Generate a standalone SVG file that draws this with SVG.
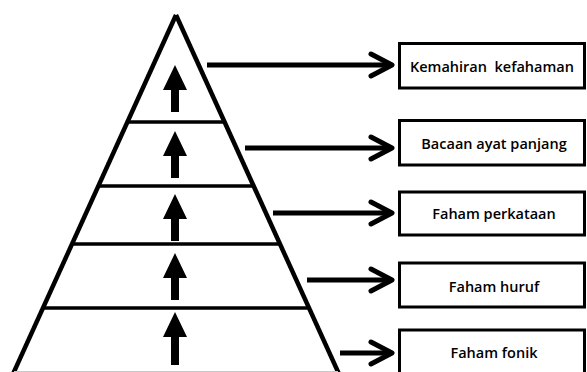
<svg xmlns="http://www.w3.org/2000/svg" width="587" height="372" viewBox="0 0 587 372">
  <style>
    .side { stroke: #000; stroke-width: 4.5; fill: none; stroke-linecap: butt; }
    .div { stroke: #000; stroke-width: 3.5; fill: none; }
    .up { fill: #000; stroke: none; }
    .box { fill: #fff; stroke: #000; stroke-width: 3; }
    .lbl { font-family: "Open Sans", "DejaVu Sans", sans-serif; font-weight: 600; font-size: 14.5px; fill: #000; }
    .conn { stroke: #000; stroke-width: 5; fill: none; }
    .chev { stroke: #000; stroke-width: 5; fill: none; stroke-linecap: round; stroke-linejoin: round; }
  </style>
  <defs>
    <path id="uparrow" d="M0,0 L12,25 L4,25 L4,47 L-4,47 L-4,25 L-12,25 Z"/>
  </defs>
  <rect width="587" height="372" fill="#fff"/>
  <g id="pyramid">
    <line class="side" x1="176" y1="15" x2="13" y2="374"/>
    <line class="side" x1="176" y1="15" x2="339" y2="374"/>
    <line class="div" x1="129" y1="122" x2="223" y2="122"/>
    <line class="div" x1="99" y1="186" x2="253" y2="186"/>
    <line class="div" x1="72" y1="244" x2="280" y2="244"/>
    <line class="div" x1="43" y1="308" x2="309" y2="308"/>
    <line x1="14" y1="371.5" x2="338" y2="371.5" stroke="#c8c8c8" stroke-width="1"/>
    <use href="#uparrow" class="up" x="175" y="65"/>
    <use href="#uparrow" class="up" x="175" y="131"/>
    <use href="#uparrow" class="up" x="175" y="194"/>
    <use href="#uparrow" class="up" x="175" y="253"/>
    <path class="up" d="M175,312 L187,337 L179,337 L179,365 L171,365 L171,337 L163,337 Z"/>
  </g>
  <g id="connectors">
    <line class="conn" x1="207" y1="65" x2="390" y2="65"/>
    <path class="chev" d="M371,54 L392,65 L371,76"/>
    <line class="conn" x1="245" y1="148" x2="390" y2="148"/>
    <path class="chev" d="M371,137 L392,148 L371,159"/>
    <line class="conn" x1="273" y1="213" x2="390" y2="213"/>
    <path class="chev" d="M371,202 L392,213 L371,224"/>
    <line class="conn" x1="307" y1="280" x2="390" y2="280"/>
    <path class="chev" d="M371,269 L392,280 L371,291"/>
    <line class="conn" x1="340" y1="353" x2="390" y2="353"/>
    <path class="chev" d="M371,342 L392,353 L371,364"/>
  </g>
  <g id="node1">
    <rect class="box" x="399.5" y="43.5" width="185" height="44.5"/>
    <text class="lbl" x="410" y="72" xml:space="preserve">Kemahiran  kefahaman</text>
  </g>
  <g id="node2">
    <rect class="box" x="399.5" y="120.5" width="185" height="44.5"/>
    <text class="lbl" x="494" y="149" text-anchor="middle">Bacaan ayat panjang</text>
  </g>
  <g id="node3">
    <rect class="box" x="399.5" y="192" width="185" height="43"/>
    <text class="lbl" x="494" y="219" text-anchor="middle">Faham perkataan</text>
  </g>
  <g id="node4">
    <rect class="box" x="399.5" y="263" width="185" height="44"/>
    <text class="lbl" x="494" y="292" text-anchor="middle">Faham huruf</text>
  </g>
  <g id="node5">
    <rect class="box" x="399.5" y="330" width="185" height="50"/>
    <text class="lbl" x="494" y="358" text-anchor="middle">Faham fonik</text>
  </g>
</svg>
